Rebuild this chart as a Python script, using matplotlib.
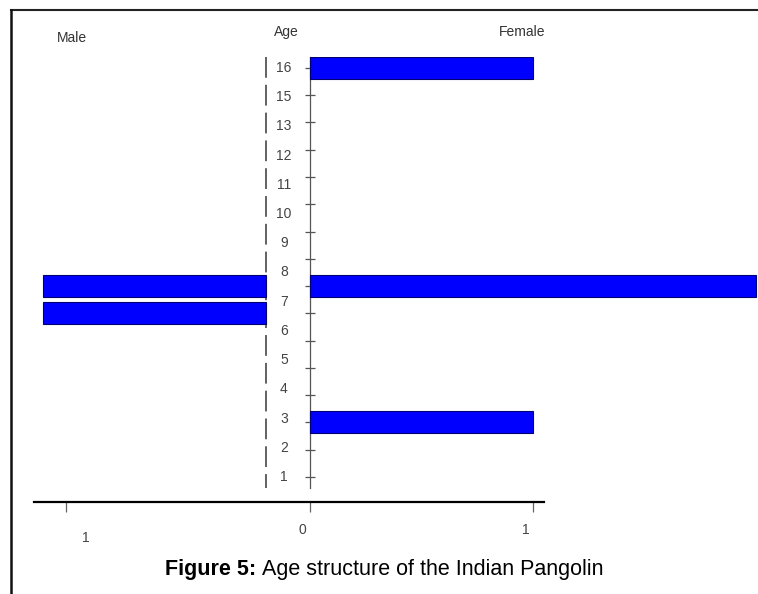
import matplotlib

matplotlib.use("Agg")
import matplotlib.pyplot as plt
import numpy as np
from matplotlib.lines import Line2D

plt.rcParams["font.family"] = ["Liberation Sans", "DejaVu Sans"]

# Age labels as printed down the middle (14 is missing in the original).
AGE_LABELS = ["1", "2", "3", "4", "5", "6", "7", "8", "9", "10", "11", "12",
              "13", "15", "16"]
# One value per tick slot on the female axis (bottom to top, 16 slots).
SLOTS = np.arange(16)
FEMALE = [0, 0, 1, 0, 0, 0, 0, 2, 0, 0, 0, 0, 0, 0, 0, 1]
MALE = [0, 0, 0, 0, 0, 0, 1, 1, 0, 0, 0, 0, 0, 0, 0, 0]

BLUE = "#0000FF"
EDGE = "#000070"
GREY = "#444444"

W, H = 758, 594
MALE_ZERO = -44 / 223          # male bars start left of the age column
MALE_TICK = -244 / 223         # where the "1" tick sits on the male side

fig = plt.figure(figsize=(W / 100, H / 100), dpi=100, facecolor="white")
ax = fig.add_axes([34 / W, 92 / H, 724 / W, 445 / H])
ax.set_xlim(-276 / 223, 448 / 223)
ax.set_ylim(-0.917, 15.4)

# Bars (only non-empty ones, so no zero-width outlines get drawn).
female = np.array(FEMALE)
male = np.array(MALE)
fm = female > 0
mm = male > 0
ax.barh(SLOTS[fm], female[fm], height=0.81, left=0, color=BLUE,
        edgecolor=EDGE, linewidth=0.8, zorder=3)
ax.barh(SLOTS[mm], -male[mm], height=0.81, left=MALE_ZERO, color=BLUE,
        edgecolor=EDGE, linewidth=0.8, zorder=3)

# Female axis (vertical line with ticks at 0).
for s in ("top", "right"):
    ax.spines[s].set_visible(False)
ax.spines["left"].set_position(("data", 0))
ax.spines["left"].set_bounds(-0.4, 15.4)
ax.spines["left"].set_color("#555555")
ax.spines["left"].set_linewidth(0.9)
ax.set_yticks(SLOTS)
ax.set_yticklabels([])
ax.tick_params(axis="y", direction="inout", length=7, width=0.9,
               color="#555555")

# Bottom axis.
ax.spines["bottom"].set_bounds(-276 / 223, 234 / 223)
ax.spines["bottom"].set_linewidth(1.6)
ax.spines["bottom"].set_color("black")
ax.set_xticks([MALE_TICK, 0, 1])
ax.set_xticklabels([])
ax.tick_params(axis="x", direction="out", length=7, width=0.9,
               color="#666666")

# Dashed male axis line next to the age labels.
ax.plot([MALE_ZERO, MALE_ZERO], [15.4, -0.4], color="#555555", lw=1.3,
        dashes=(11.5, 3.9), zorder=2)

# Age labels, spread evenly over the axis height.
for lab, y in zip(AGE_LABELS, np.linspace(0, 15, len(AGE_LABELS))):
    ax.text(-26 / 223, y, lab, ha="center", va="center", fontsize=10,
            color=GREY)

# Bottom tick labels.
fig.text(302 / W, 1 - 530 / H, "0", ha="center", va="center", fontsize=10,
         color=GREY)
fig.text(526 / W, 1 - 530 / H, "1", ha="center", va="center", fontsize=10,
         color=GREY)
fig.text(86 / W, 1 - 538 / H, "1", ha="center", va="center", fontsize=10,
         color=GREY)

# Headings.
fig.text(72 / W, 1 - 38 / H, "Male", ha="center", va="center", fontsize=10,
         color="#333333")
fig.text(286 / W, 1 - 32 / H, "Age", ha="center", va="center", fontsize=10,
         color="#333333")
fig.text(522 / W, 1 - 32 / H, "Female", ha="center", va="center",
         fontsize=10, color="#333333")

# Caption: bold part then regular part.
t1 = fig.text(165 / W, 1 - 570 / H, "Figure 5:", ha="left", va="center",
              fontsize=15.5, fontweight="bold")
fig.canvas.draw()
ax.annotate("Age structure of the Indian Pangolin", xy=(1, 0.5),
            xycoords=t1, xytext=(4, 0), textcoords="offset points",
            ha="left", va="center", fontsize=15.5, annotation_clip=False)

# Page frame lines (top and left).
fig.add_artist(Line2D([11 / W, 1], [1 - 10 / H, 1 - 10 / H], color="#222222",
                      lw=1.5))
fig.add_artist(Line2D([11 / W, 11 / W], [0, 1 - 10 / H], color="#111111",
                      lw=1.8))

fig.savefig("out.png", dpi=100, facecolor="white")
